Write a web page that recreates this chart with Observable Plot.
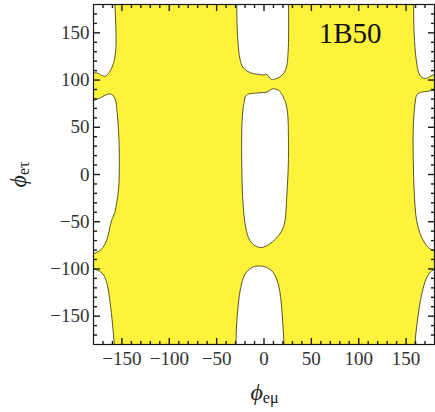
<!DOCTYPE html>
<html><head><meta charset="utf-8">
<script src="https://cdn.jsdelivr.net/npm/d3@7"></script>
<script src="https://cdn.jsdelivr.net/npm/@observablehq/plot@0.6"></script>
<style>body{margin:0;background:#fff}</style>
</head><body><div id="chart"></div>
<script>
const xDomain = [-180, 180];
const yDomain = [-180, 180];
const majorTicks = [-150, -100, -50, 0, 50, 100, 150];
const minorTicks = [-170,-160,-140,-130,-120,-110,-90,-80,-70,-60,-40,-30,-20,-10,10,20,30,40,60,70,80,90,110,120,130,140,160,170];
const panelLabel = ["1B50"];

// white (excluded) regions, boundary points [phi_emu, phi_etau]
const holeUpperCenter = [[-29,195],[-28.8,180],[-28.5,160],[-27.5,140],[-25.3,122],[-22.5,114],[-17,109],[-11,106.8],[-6,106],[0,105.3],[3,105.8],[8,100.6],[12,101.2],[17,103.5],[21.5,108],[24,115],[25.5,130],[26,150],[26,180],[26,195]];
const holeMiddleCenter = [[-20,82],[-17.5,84.8],[-14.8,85.5],[-4.2,86.6],[2.8,87.2],[6,89],[9.2,90.8],[12.5,90.3],[15.1,89.5],[18.5,85.5],[20.4,82],[22.5,77],[24,71.3],[25.3,60],[25.7,46.6],[25.7,11.5],[24,-24.2],[22.2,-49],[20,-57],[16.9,-62.8],[12,-68.5],[6.3,-73.4],[1,-76.3],[-2.5,-77.3],[-6,-76.8],[-9.5,-75.5],[-13.5,-72],[-16.5,-66.7],[-20,-52.2],[-22.5,-24.2],[-23.5,11.5],[-23.5,46.6],[-22.8,62],[-21.8,72],[-20,82]];
const holeLowerCenter = [[-29.8,-195],[-29.6,-180],[-28.9,-158.3],[-27.1,-137.1],[-24.6,-119.8],[-20,-105.6],[-13,-98.6],[-5,-96.8],[2.8,-98.4],[9.9,-103.9],[15.1,-116.2],[18,-133.9],[19.7,-155.1],[21.1,-180],[21.2,-195]];
const holeUpperLeft = [[-195,107.5],[-180,107.5],[-176.5,107.6],[-171.2,104.9],[-167.7,103.9],[-163.2,108.4],[-159,117.4],[-156.5,131.5],[-156.2,149.2],[-157.3,180],[-157.3,195],[-195,195]];
const holeMiddleLeft = [[-195,78.4],[-180,78.4],[-173.5,80.9],[-166.3,84.5],[-161,84.9],[-157.3,80.2],[-154.9,64.3],[-153.1,36],[-152.8,0.6],[-153.5,-15],[-155.5,-30],[-157.5,-40],[-161,-49],[-166.3,-70.2],[-171.5,-79],[-176.8,-82.6],[-180,-83.7],[-195,-83.7]];
const holeLowerLeft = [[-195,-100.3],[-180,-100.3],[-175.5,-101.5],[-169.8,-105.6],[-165.6,-116.2],[-162.7,-133.9],[-159.9,-158.6],[-158.2,-180],[-158.1,-195],[-195,-195]];
const holeUpperRight = [[158.3,195],[158,180],[158.5,149],[160.8,120.9],[164.3,105.5],[169.6,101.5],[174.9,103.5],[180,106],[195,106],[195,195]];
const holeMiddleRight = [[195,89],[180,89],[175,88.5],[170,87.7],[166.3,87.2],[161.5,84.5],[159.4,74.9],[157.6,50],[157.6,14.7],[158.7,-20.6],[161.2,-49],[166.5,-66.7],[173.5,-77.3],[180,-80.8],[195,-80.8]];
const holeLowerRight = [[195,-101],[180,-101],[177,-102],[171.8,-109.2],[166.5,-126.8],[161.9,-155.1],[159.4,-180],[159.4,-195],[195,-195]];

const holes = {holeUpperCenter, holeMiddleCenter, holeLowerCenter, holeUpperLeft, holeMiddleLeft, holeLowerLeft, holeUpperRight, holeMiddleRight, holeLowerRight};
const table = Object.entries(holes).flatMap(([name, pts]) => pts.map(([x, y]) => ({hole: name, x, y})));

const yellow = "#fff23a";
const edge = "#55552a";
const ink = "#1a1a1a";

const W = 435, H = 412, mL = 93, mR = 1, mT = 4, mB = 68;
const fw = W - mL - mR, fh = H - mT - mB;
const [x0, x1] = xDomain, [y0, y1] = yDomain;

// inward tick table on all four sides: value, side, length in px (major / minor)
const tickRows = [];
for (const v of majorTicks) for (const side of ["b", "t", "l", "r"]) tickRows.push({v, side, len: 6.5});
for (const v of minorTicks) for (const side of ["b", "t", "l", "r"]) tickRows.push({v, side, len: 3.5});
const degX = px => px / fw * (x1 - x0);
const degY = px => px / fh * (y1 - y0);
const tickSegs = tickRows.map(({v, side, len}) => {
  if (side === "b") return {xa: v, xb: v, ya: y0, yb: y0 + degY(len)};
  if (side === "t") return {xa: v, xb: v, ya: y1, yb: y1 - degY(len)};
  if (side === "l") return {xa: x0, xb: x0 + degX(len), ya: v, yb: v};
  return {xa: x1, xb: x1 - degX(len), ya: v, yb: v};
});

const plot = Plot.plot({
  width: W,
  height: H,
  marginLeft: mL,
  marginRight: mR,
  marginTop: mT,
  marginBottom: mB,
  x: {domain: xDomain},
  y: {domain: yDomain},
  style: {fontFamily: "'Liberation Serif', 'Times New Roman', serif", fontSize: "19px", color: ink, background: "white"},
  marks: [
    Plot.frame({fill: yellow, stroke: null}),
    Plot.line(table, {x: "x", y: "y", z: "hole", fill: "white", stroke: edge, strokeWidth: 1, curve: "catmull-rom", clip: true}),
    Plot.link(tickSegs, {x1: "xa", y1: "ya", x2: "xb", y2: "yb", stroke: ink, strokeWidth: 1.4}),
    Plot.frame({stroke: ink, strokeWidth: 1.2}),
    Plot.axisX({anchor: "bottom", ticks: majorTicks, tickSize: 0, tickPadding: 7, label: null, fill: "#333"}),
    Plot.axisY({anchor: "left", ticks: majorTicks, tickSize: 0, tickPadding: 4, label: null, fill: "#333"}),
    Plot.text(panelLabel, {frameAnchor: "top-right", dx: -53, dy: 18, fontSize: 29, fill: "#111"})
  ]
});

const svg = d3.select(plot);
const xl = svg.append("text").attr("x", 264.5).attr("y", 400).attr("text-anchor", "middle").attr("fill", "#222");
xl.append("tspan").attr("font-style", "italic").attr("font-size", 24).text("ϕ");
xl.append("tspan").attr("font-size", 16).attr("dy", 3).text("eμ");
const yl = svg.append("text").attr("transform", "translate(26,174.5) rotate(-90)").attr("text-anchor", "middle").attr("fill", "#222");
yl.append("tspan").attr("font-style", "italic").attr("font-size", 24).text("ϕ");
yl.append("tspan").attr("font-size", 16).attr("dy", 3).text("eτ");

document.getElementById("chart").append(plot);
</script>
</body></html>
